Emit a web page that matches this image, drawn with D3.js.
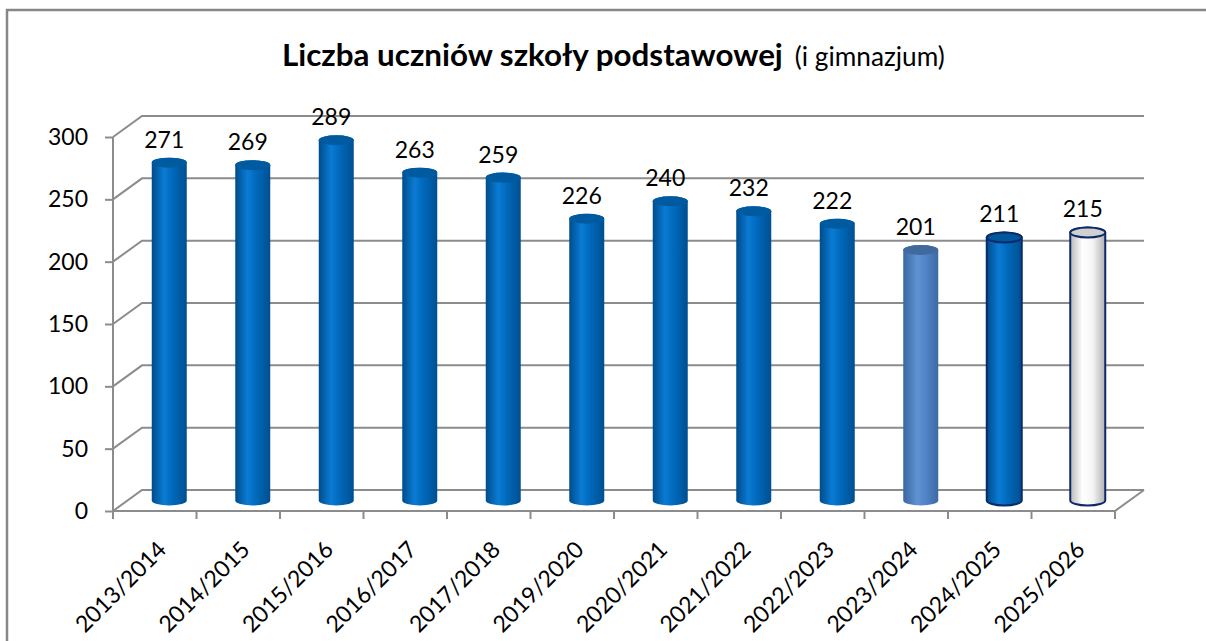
<!DOCTYPE html>
<html>
<head>
<meta charset="utf-8">
<script src="https://cdn.jsdelivr.net/npm/d3@7"></script>
<style>
  body { margin: 0; background: #fff; }
  text { font-family: Lato, "Open Sans", sans-serif; fill: #000; }
</style>
</head>
<body>
<svg id="chart" width="1206" height="641"></svg>
<script>

const categories = ['2013/2014', '2014/2015', '2015/2016', '2016/2017', '2017/2018', '2019/2020',
                    '2020/2021', '2021/2022', '2022/2023', '2023/2024', '2024/2025', '2025/2026']
const values = [271, 269, 289, 263, 259, 226, 240, 232, 222, 201, 211, 215]
const yTicks = [0, 50, 100, 150, 200, 250, 300]
const titleMain = 'Liczba uczniów szkoły podstawowej'
const titleSub = '(i gimnazjum)'

const svg = d3.select('#chart')
const width = 1206
const height = 641

// 3d depth of the plot (back wall offset)
const dx = 29
const dy = -21

const x = d3.scaleBand().domain(categories).range([113, 1115])
const y = d3.scaleLinear().domain([0, 300]).range([511, 137])

const grey = '#8c8c8c'
const fontSize = 23

// outer frame
svg.append('rect')
    .attr('x', 7).attr('y', 10)
    .attr('width', width + 20).attr('height', height + 20)
    .attr('fill', 'none').attr('stroke', '#878787').attr('stroke-width', 2.5)

// gradients for cylinders
const defs = svg.append('defs')
const grads = {
    blue:  [['0%', '#004c8a'], ['35%', '#0a7bd4'], ['60%', '#0069bb'], ['100%', '#004f90']],
    pale:  [['0%', '#3b679f'], ['40%', '#5e92d2'], ['65%', '#5084c6'], ['100%', '#3c6aa3']],
    white: [['0%', '#b8b8b8'], ['35%', '#ffffff'], ['65%', '#f4f4f4'], ['100%', '#b0b0b0']]
}
Object.entries(grads).forEach(([name, stops]) => {
    const lg = defs.append('linearGradient').attr('id', 'g-' + name)
        .attr('x1', 0).attr('x2', 1).attr('y1', 0).attr('y2', 0)
    stops.forEach(s => lg.append('stop').attr('offset', s[0]).attr('stop-color', s[1]))
})

function barStyle (cat) {
    if (cat === '2023/2024') return { fill: 'url(#g-pale)', top: '#41699f', stroke: 'none' }
    if (cat === '2024/2025') return { fill: 'url(#g-blue)', top: '#00579c', stroke: '#0c2a6a' }
    if (cat === '2025/2026') return { fill: 'url(#g-white)', top: '#d0d0d0', stroke: '#0c2a6a' }
    return { fill: 'url(#g-blue)', top: '#005a9f', stroke: 'none' }
}

// gridlines on the back wall + left wall
const x0 = x.range()[0]
const x1 = x.range()[1]

svg.append('g').selectAll('path').data(yTicks).join('path')
    .attr('d', t => `M${x0},${y(t)}L${x0 + dx},${y(t) + dy}H${x1 + dx}`)
    .attr('fill', 'none').attr('stroke', grey).attr('stroke-width', 2)

// floor front edge and right edge
svg.append('path')
    .attr('d', `M${x0},${y(0)}H${x1}L${x1 + dx},${y(0) + dy}`)
    .attr('fill', 'none').attr('stroke', grey).attr('stroke-width', 2)

// vertical axis line
svg.append('path')
    .attr('d', `M${x0},${y(0)}V${y(300)}`)
    .attr('stroke', grey).attr('stroke-width', 2)

// y axis
const yaxis = d3.axisLeft(y).tickValues(yTicks).tickSize(8).tickPadding(17)
const yg = svg.append('g').attr('transform', `translate(${x0},0)`).call(yaxis)
yg.select('.domain').remove()
yg.selectAll('.tick line').attr('stroke', grey).attr('stroke-width', 2)
yg.selectAll('.tick text').attr('font-size', fontSize).attr('font-family', null).attr('fill', '#000')

// category ticks at band edges
const edges = categories.map(c => x(c)).concat([x1])
svg.append('g').selectAll('line').data(edges).join('line')
    .attr('x1', d => d).attr('x2', d => d)
    .attr('y1', y(0)).attr('y2', y(0) + 8)
    .attr('stroke', grey).attr('stroke-width', 2)

// category labels
svg.append('g').selectAll('text').data(categories).join('text')
    .attr('transform', c => `translate(${x(c) + x.bandwidth() / 2 + 13},${y(0) + 40}) rotate(-45)`)
    .attr('text-anchor', 'end')
    .attr('font-size', fontSize)
    .text(c => c)

// cylinders
const rx = 17.5
const ry = 5
const bars = categories.map((c, i) => ({ cat: c, value: values[i] }))

const barG = svg.append('g').selectAll('g').data(bars).join('g')

barG.each(function (d) {
    const g = d3.select(this)
    const st = barStyle(d.cat)
    const cx = x(d.cat) + x.bandwidth() / 2 + dx / 2
    const yb = y(0) + dy / 2
    const yt = y(d.value) + dy / 2

    g.append('path')
        .attr('d', `M${cx - rx},${yt}V${yb}A${rx},${ry} 0 0 0 ${cx + rx},${yb}V${yt}A${rx},${ry} 0 0 0 ${cx - rx},${yt}Z`)
        .attr('fill', st.fill)
        .attr('stroke', st.stroke).attr('stroke-width', 2)

    g.append('ellipse')
        .attr('cx', cx).attr('cy', yt).attr('rx', rx).attr('ry', ry)
        .attr('fill', st.top)
        .attr('stroke', st.stroke).attr('stroke-width', 2)

    g.append('text')
        .attr('x', cx - 5).attr('y', yt - 15)
        .attr('text-anchor', 'middle')
        .attr('font-size', fontSize)
        .text(d.value)
})

// title
const title = svg.append('text').attr('x', 282).attr('y', 66)
const tMain = title.append('tspan').attr('font-weight', 'bold').attr('font-size', 26).text(titleMain)
const tSub = title.append('tspan').attr('dx', 12).attr('font-size', 20).text(titleSub)

// fit the title widths to the original
const mainW = tMain.node().getComputedTextLength()
tMain.attr('font-size', 26 * 501 / mainW)
const subW = tSub.node().getComputedTextLength()
tSub.attr('font-size', 20 * 150 / subW)

</script>
</body>
</html>
